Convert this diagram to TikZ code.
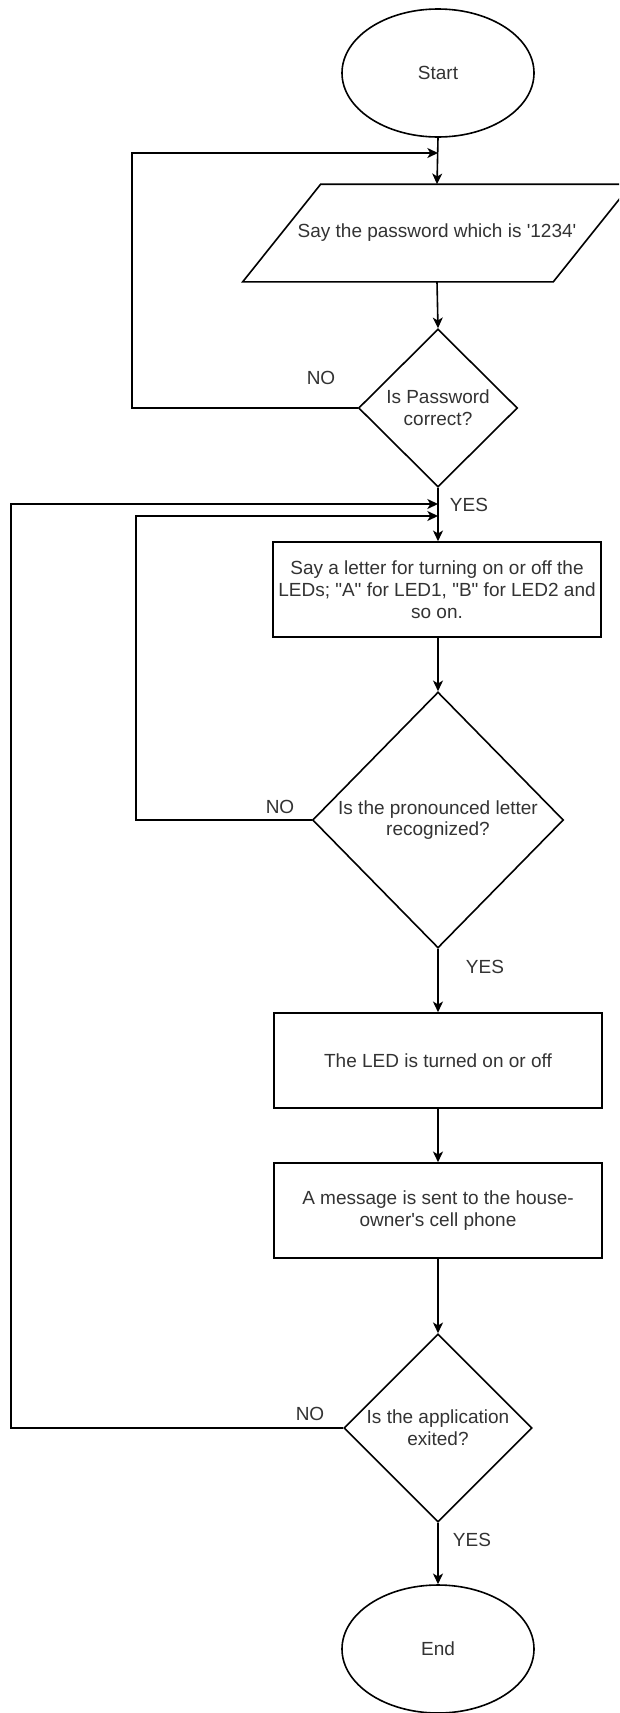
\documentclass[tikz,border=0pt]{standalone}
\usepackage{fontspec}
\setmainfont{Liberation Sans}
\usetikzlibrary{shapes.geometric,arrows.meta}
\definecolor{ink}{rgb}{0,0,0}
\definecolor{txt}{rgb}{0.2,0.2,0.2}
\begin{document}
\begin{tikzpicture}[x=0.75pt,y=-0.75pt,line width=1.2pt,
  every node/.style={font=\fontsize{14.25pt}{16.3pt}\selectfont,text=txt},
  terminal/.style={draw=ink,ellipse,minimum width=144pt,minimum height=96pt,inner sep=0pt},
  procbox/.style={draw=ink,rectangle,minimum width=246pt,minimum height=71.25pt,inner sep=2pt,align=center},
  decision/.style={draw=ink,diamond,inner sep=0pt,align=center},
  iobody/.style={rectangle,minimum width=231.75pt,minimum height=72pt,inner sep=0pt},
  flow/.style={draw=ink,-{Stealth[length=8pt,width=7.5pt,inset=2.2pt]}},
  answer/.style={inner sep=0pt}]

% canvas
\useasboundingbox (0,0) rectangle (619,1713);
\fill[white] (0,0) rectangle (619,1713);
\clip (0,0) rectangle (619,1713);

% main column
\node[terminal] (start) at (438,73) {Start};
\node[iobody] (pw) at (437,233) {Say the password which is \textquotesingle1234\textquotesingle};
\draw[ink,line join=miter]
  ([xshift=29.25pt]pw.north west) -- ([xshift=29.25pt]pw.north east)
  -- ([xshift=-29.25pt]pw.south east) -- ([xshift=-29.25pt]pw.south west) -- cycle;
\node[decision,minimum width=119.25pt,minimum height=118.5pt] (d1) at (438,408)
  {Is Password\\correct?};
\node[procbox] (r2) at (437,589.5)
  {Say a letter for turning on or off the\\LEDs; \textquotedbl A\textquotedbl\ for LED1, \textquotedbl B\textquotedbl\ for LED2 and\\so on.};
\node[decision,minimum width=188.25pt,minimum height=192pt] (d2) at (438,820)
  {Is the pronounced letter\\recognized?};
\node[procbox] (r3) at (438,1060.5) {The LED is turned on or off};
\node[procbox] (r4) at (438,1210.5)
  {A message is sent to the house-\\owner\textquotesingle s cell phone};
\node[decision,minimum width=141pt,minimum height=141pt] (d3) at (438,1428)
  {Is the application\\exited?};
\node[terminal] (end) at (438,1649) {End};

% branch labels
\node[answer] (no1) at (321,378) {NO};
\node[answer] (yes1) at (469,505) {YES};
\node[answer] (no2) at (280,807) {NO};
\node[answer] (yes2) at (485,967) {YES};
\node[answer] (no3) at (310,1414) {NO};
\node[answer] (yes3) at (472,1540) {YES};

% merge points and loop corners
\coordinate (m1) at (438,153);
\coordinate (k1) at (132,153);
\coordinate (m2) at (438,504);
\coordinate (k2) at (11,504);
\coordinate (m3) at (438,516);
\coordinate (k3) at (136,516);

% forward flow
\draw[flow] (start.south) -- (pw.north);
\draw[flow] (pw.south) -- (d1.north);
\draw[flow] (d1.south) -- (r2.north -| d1.south);
\draw[flow] (r2.south -| d2.north) -- (d2.north);
\draw[flow] (d2.south) -- (r3.north);
\draw[flow] (r3.south) -- (r4.north);
\draw[flow] (r4.south) -- (d3.north);
\draw[flow] (d3.south) -- (end.north);

% NO loops
\draw[flow] (d1.west) -| (k1) -- (m1);
\draw[flow] (d3.west) -| (k2) -- (m2);
\draw[flow] (d2.west) -| (k3) -- (m3);
\end{tikzpicture}
\end{document}
